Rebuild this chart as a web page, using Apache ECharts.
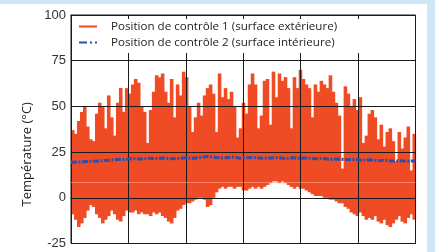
<!DOCTYPE html>
<html>
<head>
<meta charset="utf-8">
<script src="https://cdn.jsdelivr.net/npm/echarts@6/dist/echarts.min.js"></script>
<style>
	html, body { margin: 0; padding: 0; background: #cfe8f7; }
	#chart { position: absolute; left: 0; top: 4px; width: 427px; height: 248px; background: #fff; }
</style>
</head>
<body>
<div id="chart"></div>
<script>
	// position 1 : daily max / min, one pair every ~3 days
	var hiTemp = [37, 35, 42, 47, 50, 39, 32, 31, 46, 52, 50, 38, 56, 44, 34, 52, 60, 47, 60, 57,
		62, 65, 63, 50, 47, 30, 48, 58, 67, 66, 68, 58, 52, 65, 44, 62, 56, 69, 66,
		50, 36, 44, 52, 45, 56, 60, 62, 57, 36, 68, 55, 60, 54, 58, 50, 33, 38, 52,
		46, 62, 68, 62, 38, 45, 64, 65, 40, 69, 55, 68, 64, 66, 60, 38, 66, 60, 70,
		65, 62, 60, 44, 62, 58, 64, 62, 60, 67, 58, 52, 45, 16, 61, 57, 50, 54, 48, 55,
		30, 34, 46, 48, 44, 32, 40, 28, 36, 38, 31, 20, 36, 27, 33, 39, 15, 35];
	var loTemp = [-9, -12, -16, -14, -11, -7, -4, -5, -9, -11, -14, -12, -10, -7, -9, -12, -13, -10, -7, -8,
		-8, -7, -9, -8, -9, -9, -10, -8, -9, -8, -10, -11, -13, -14, -11, -7, -6, -4, -3,
		-3, -2, -1, 0, 0, -1, -5, -4, 0, 3, 5, 6, 5, 6, 6, 5, 6, 6, 4,
		4, 5, 6, 5, 6, 5, 6, 7, 8, 9, 9, 8, 9, 8, 7, 6, 5, 6, 5,
		5, 4, 3, 2, 1, 1, 1, 0, 0, -1, -1, -2, -3, -3, -5, -6, -8, -9, -10, -8,
		-10, -12, -11, -12, -10, -13, -14, -12, -15, -16, -14, -12, -10, -13, -14, -11, -9, -12];
	// position 2 : every 8 days
	var innerTemp = [19.5, 19.6, 19.8, 20.0, 20.3, 20.6, 20.9, 21.0, 21.4, 21.2, 21.6, 21.4, 21.8, 21.3, 21.5, 21.9,
		21.6, 22.2, 22.6, 22.0, 21.8, 22.3, 21.7, 21.9, 22.1, 21.6, 21.8, 22.0, 21.5, 21.9, 21.6, 21.8,
		21.3, 21.5, 21.0, 21.2, 20.8, 21.0, 20.6, 20.8, 20.3, 20.5, 20.1, 20.3, 20.0, 20.2];
	var seriesNames = ['Position de contrôle 1 (surface extérieure)', 'Position de contrôle 2 (surface intérieure)'];
	var dayMax = 360;
	var red = '#ef4b25', blue = '#2b4fae', lineCol = '#1a1a1a';

	var step = dayMax / hiTemp.length;
	var outerData = hiTemp.map(function (v, i) {
		return [(i + 0.5) * step, loTemp[i], v];
	});
	var innerStep = dayMax / (innerTemp.length - 1);
	var innerData = innerTemp.map(function (v, i) {
		return [i * innerStep, v];
	});

	// min..max band, one column per sample
	function renderBand(params, api) {
		var t = api.value(0);
		var top = api.coord([t - step / 2, api.value(2)]);
		var bot = api.coord([t + step / 2, api.value(1)]);
		return {
			type: 'rect',
			shape: { x: top[0], y: top[1], width: bot[0] - top[0] + 0.6, height: bot[1] - top[1] },
			style: { fill: red }
		};
	}

	var chart = echarts.init(document.getElementById('chart'));
	var option = {
		animation: false,
		grid: {
			left: 71, right: 11.5, top: 11, bottom: 8.5,
			show: true, borderColor: lineCol, borderWidth: 1
		},
		legend: {
			orient: 'vertical',
			left: 72, top: 13,
			z: 10,
			backgroundColor: '#fff',
			padding: [3, 75, 4, 7],
			itemWidth: 18, itemHeight: 2.5, itemGap: 3,
			textStyle: { fontFamily: 'Open Sans', fontSize: 11.6, color: '#222', padding: [0, 0, 0, 9], lineHeight: 13 },
			data: [
				{ name: seriesNames[0], icon: 'path://M0,0H18V2H0Z', itemStyle: { color: red } },
				{ name: seriesNames[1], icon: 'path://M0,0H8V2H0Z M11,0H13V2H11Z M16,0H18V2H16Z', itemStyle: { color: blue } }
			]
		},
		xAxis: [{
			type: 'value', min: 0, max: dayMax, interval: 60,
			z: 4,
			axisLabel: { show: false }, axisTick: { show: false },
			axisLine: { show: true, lineStyle: { color: lineCol } },
			splitLine: { show: true, lineStyle: { color: lineCol, width: 1 } }
		}, {
			type: 'value', min: 0, max: dayMax, interval: 60, position: 'top',
			z: 11,
			axisLabel: { show: false },
			axisTick: { show: true, inside: true, length: 4, lineStyle: { color: lineCol } },
			axisLine: { show: true, lineStyle: { color: lineCol } },
			splitLine: { show: false }
		}],
		yAxis: {
			type: 'value', min: -25, max: 100, interval: 25,
			z: 4,
			name: 'Température (°C)', nameLocation: 'middle', nameGap: 36,
			nameTextStyle: { fontFamily: 'Open Sans', fontSize: 13, color: '#222', padding: [0, 50, 0, 0] },
			axisLine: { show: true, lineStyle: { color: lineCol } },
			axisTick: { show: false },
			axisLabel: { fontFamily: 'Liberation Sans', fontSize: 13, color: '#333', margin: 5 },
			splitLine: { show: true, lineStyle: { color: lineCol, width: 1 } }
		},
		series: [{
			name: seriesNames[0],
			type: 'custom',
			renderItem: renderBand,
			data: outerData,
			encode: { x: 0, y: [1, 2] },
			color: red,
			z: 2,
			markLine: {
				silent: true, symbol: 'none', label: { show: false },
				lineStyle: { color: 'rgba(255,180,150,0.55)', type: 'solid', width: 1 },
				data: [{ yAxis: 8.7 }]
			}
		}, {
			name: seriesNames[1],
			type: 'line',
			data: innerData,
			symbol: 'none',
			color: blue,
			lineStyle: { width: 3, color: blue, type: [6, 1.5, 2, 1.5] },
			z: 5
		}]
	};
	chart.setOption(option);
</script>
</body>
</html>
